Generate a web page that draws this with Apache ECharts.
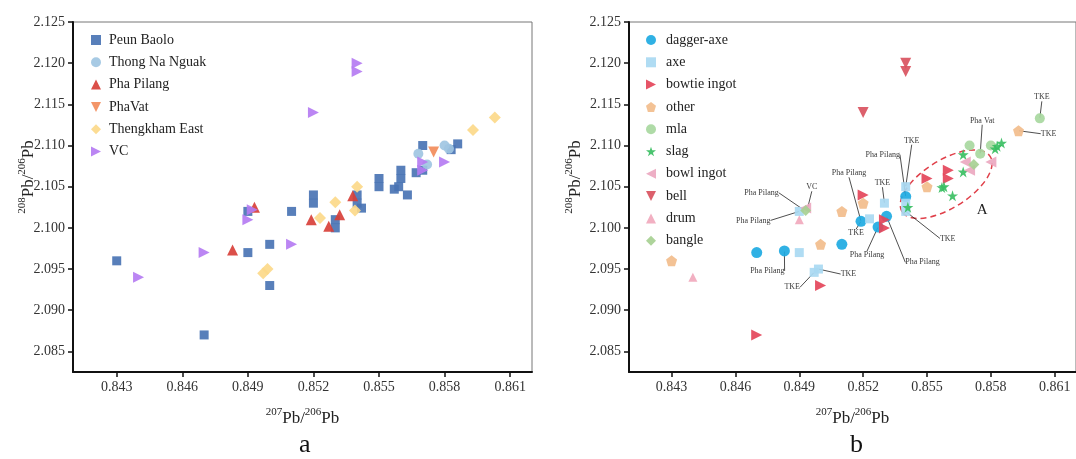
<!DOCTYPE html>
<html>
<head>
<meta charset="utf-8">
<script src="https://cdn.jsdelivr.net/npm/echarts@6/dist/echarts.min.js"></script>
<style>
	html, body { margin: 0; padding: 0; background: #fff; }
	#main { width: 1076px; height: 459px; }
</style>
</head>
<body>
<div id="main"></div>
<script>
// tick labels (both panels share the same axes)
var xTicks = [0.843, 0.846, 0.849, 0.852, 0.855, 0.858, 0.861];
var yTicks = [2.085, 2.090, 2.095, 2.100, 2.105, 2.110, 2.115, 2.120, 2.125];

// panel a : [207Pb/206Pb, 208Pb/206Pb]
var peunBaolo = [
	[0.843, 2.096], [0.847, 2.087], [0.849, 2.097], [0.849, 2.102], [0.850, 2.098],
	[0.850, 2.093], [0.851, 2.102], [0.852, 2.104], [0.852, 2.103], [0.853, 2.101],
	[0.853, 2.100], [0.854, 2.104], [0.854, 2.103], [0.8542, 2.1024], [0.855, 2.106],
	[0.855, 2.105], [0.856, 2.107], [0.856, 2.106], [0.8557, 2.1047], [0.8559, 2.105],
	[0.8563, 2.104], [0.8567, 2.1067], [0.857, 2.110], [0.857, 2.107], [0.8583, 2.1095],
	[0.8586, 2.1102]
];
var thongNaNguak = [[0.8568, 2.109], [0.858, 2.110], [0.8582, 2.1096], [0.8572, 2.1077]];
var phaPilang = [[0.8483, 2.0973], [0.8493, 2.1025], [0.8519, 2.101], [0.8527, 2.1002], [0.8532, 2.1016], [0.8538, 2.1039]];
var phaVat = [[0.8575, 2.1092]];
var thengkhamEast = [
	[0.8497, 2.0945], [0.8499, 2.095], [0.8523, 2.1012], [0.853, 2.1031],
	[0.8539, 2.1021], [0.854, 2.105], [0.8593, 2.1119], [0.8603, 2.1134]
];
var vc = [
	[0.844, 2.094], [0.847, 2.097], [0.849, 2.101], [0.8492, 2.1022], [0.851, 2.098],
	[0.852, 2.114], [0.854, 2.120], [0.854, 2.119], [0.857, 2.108], [0.857, 2.107], [0.858, 2.108]
];

// panel b
var daggerAxe = [[0.847, 2.097], [0.8483, 2.0972], [0.851, 2.098], [0.8519, 2.1008], [0.8527, 2.1001], [0.8531, 2.1014], [0.854, 2.1038]];
var axe = [[0.849, 2.097], [0.8497, 2.0946], [0.8499, 2.095], [0.849, 2.102], [0.8523, 2.1011], [0.853, 2.103], [0.854, 2.105], [0.854, 2.103], [0.854, 2.102]];
var bowtieIngot = [[0.847, 2.087], [0.850, 2.093], [0.853, 2.100], [0.853, 2.101], [0.852, 2.104], [0.855, 2.106], [0.856, 2.107], [0.856, 2.106]];
var other = [[0.843, 2.096], [0.850, 2.098], [0.851, 2.102], [0.852, 2.103], [0.855, 2.105], [0.8593, 2.1118]];
var mla = [[0.857, 2.110], [0.8575, 2.109], [0.858, 2.110], [0.8603, 2.1133]];
var slag = [[0.8541, 2.1025], [0.8557, 2.1049], [0.8558, 2.105], [0.8562, 2.1039], [0.8567, 2.1068], [0.8567, 2.1089], [0.8582, 2.1096], [0.8583, 2.1099], [0.8585, 2.1103]];
var bowlIngot = [[0.8493, 2.1024], [0.8568, 2.108], [0.857, 2.107], [0.858, 2.108]];
var bell = [[0.852, 2.114], [0.854, 2.120], [0.854, 2.119]];
var drum = [[0.844, 2.094], [0.849, 2.101]];
var bangle = [[0.8493, 2.1021], [0.8572, 2.1077]];

// annotations of panel b: text, point it refers to
var annoText = ['Pha Pilang', 'VC', 'Pha Pilang', 'Pha Pilang', 'TKE', 'TKE', 'TKE', 'Pha Pilang', 'Pha Pilang',
	'TKE', 'TKE', 'TKE', 'Pha Pilang', 'Pha Pilang', 'Pha Vat', 'TKE', 'TKE'];
var annoAt = [[0.8492, 2.1022], [0.8494, 2.1025], [0.849, 2.102], [0.8483, 2.0972], [0.8497, 2.0946], [0.8499, 2.095],
	[0.8519, 2.1008], [0.8527, 2.1001], [0.8531, 2.1014], [0.854, 2.102], [0.853, 2.103], [0.854, 2.105],
	[0.854, 2.1038], [0.8519, 2.1008], [0.8575, 2.109], [0.8603, 2.1133], [0.8593, 2.1118]];
var ellipseAt = [0.8559, 2.1053];

// label offsets (px) of the annotations
var annoOffset = [[-42, -17], [4, -20], [-46, 9], [-17, 20], [-22, 15], [30, 5], [-5, 12], [-11, 28], [36, 46],
	[42, 27], [-2, -20], [6, -46], [-23, -42], [-12, -48], [2, -33], [2, -21], [30, 3]];

var SERIF = 'Liberation Serif';
var TRI_RIGHT = 'path://M0,0L10,5L0,10Z';
var TRI_LEFT = 'path://M10,0L0,5L10,10Z';
var TRI_DOWN = 'path://M0,0L10,0L5,10Z';
var PENTAGON = 'path://M5,0L10,3.8L8.1,10L1.9,10L0,3.8Z';
var STAR = 'path://M5,0L6.2,3.6L10,3.6L6.9,5.9L8.1,9.5L5,7.3L1.9,9.5L3.1,5.9L0,3.6L3.8,3.6Z';

var pbName = '{sup|207}{base|Pb/}{sup|206}{base|Pb}';
var pbNameY = '{sup|208}{base|Pb/}{sup|206}{base|Pb}';
var nameStyle = {
	fontFamily: SERIF,
	color: '#222',
	rich: {
		base: { fontFamily: SERIF, fontSize: 17, lineHeight: 24, color: '#222' },
		sup: { fontFamily: SERIF, fontSize: 11, verticalAlign: 'top', color: '#222' }
	}
};

function xAxis(idx) {
	return {
		type: 'value', gridIndex: idx, min: 0.841, max: 0.862,
		name: pbName, nameLocation: 'middle', nameGap: 35, nameMoveOverlap: false, nameTextStyle: nameStyle,
		axisLine: { show: true, onZero: false, lineStyle: { color: '#111', width: 2 } },
		axisTick: { show: true, length: 5, customValues: xTicks, lineStyle: { color: '#111', width: 1.5 } },
		axisLabel: {
			customValues: xTicks, margin: 8, fontFamily: SERIF, fontSize: 14, color: '#333',
			formatter: function (v) { return v.toFixed(3); }
		},
		splitLine: { show: false }
	};
}
function yAxis(idx, gap) {
	var ns = JSON.parse(JSON.stringify(nameStyle));
	ns.padding = [0, 0, 0, 40];
	return {
		type: 'value', gridIndex: idx, min: 2.0825, max: 2.125,
		name: pbNameY, nameLocation: 'middle', nameGap: gap, nameRotate: 90, nameMoveOverlap: false, nameTextStyle: ns,
		axisLine: { show: true, onZero: false, lineStyle: { color: '#111', width: 2 } },
		axisTick: { show: true, length: 5, customValues: yTicks, lineStyle: { color: '#111', width: 1.5 } },
		axisLabel: {
			customValues: yTicks, margin: 8, fontFamily: SERIF, fontSize: 14, color: '#333',
			formatter: function (v) { return v.toFixed(3); }
		},
		splitLine: { show: false }
	};
}

function pts(name, data, idx, symbol, size, color) {
	return {
		name: name, type: 'scatter', xAxisIndex: idx, yAxisIndex: idx,
		data: data, symbol: symbol, symbolSize: size,
		itemStyle: { color: color, opacity: 0.92 }
	};
}

var myChart = echarts.init(document.getElementById('main'));
var option = {
	animation: false,
	textStyle: { fontFamily: SERIF },
	title: [
		{ text: 'a', left: 299, top: 432, padding: 0, textStyle: { fontFamily: SERIF, fontSize: 26, fontWeight: 'normal', color: '#111' } },
		{ text: 'b', left: 850, top: 432, padding: 0, textStyle: { fontFamily: SERIF, fontSize: 26, fontWeight: 'normal', color: '#111' } }
	],
	grid: [
		{ left: 73, top: 22, width: 459, height: 350, show: true, borderColor: '#777', borderWidth: 1 },
		{ left: 629, top: 22, width: 459, height: 350, show: true, borderColor: '#777', borderWidth: 1 }
	],
	legend: [
		{
			orient: 'vertical', left: 86, top: 28, itemWidth: 10, itemHeight: 10, itemGap: 8.3,
			textStyle: { fontFamily: SERIF, fontSize: 14, color: '#222', padding: [0, 0, 0, 3] },
			data: ['Peun Baolo', 'Thong Na Nguak', 'Pha Pilang', 'PhaVat', 'Thengkham East', 'VC']
		},
		{
			orient: 'vertical', left: 641, top: 28, itemWidth: 10, itemHeight: 10, itemGap: 8.3,
			textStyle: { fontFamily: SERIF, fontSize: 14, color: '#222', padding: [0, 0, 0, 5] },
			data: ['dagger-axe', 'axe', 'bowtie ingot', 'other', 'mla', 'slag', 'bowl ingot', 'bell', 'drum', 'bangle']
		}
	],
	xAxis: [xAxis(0), xAxis(1)],
	yAxis: [yAxis(0, 32), yAxis(1, 41)],
	series: [
		pts('Peun Baolo', peunBaolo, 0, 'rect', 9, '#4a74b4'),
		pts('Thong Na Nguak', thongNaNguak, 0, 'circle', 10, '#9fc5e2'),
		pts('Pha Pilang', phaPilang, 0, 'triangle', 11, '#d8403a'),
		pts('PhaVat', phaVat, 0, TRI_DOWN, 11, '#f28c5b'),
		pts('Thengkham East', thengkhamEast, 0, 'diamond', 12, '#fcd98a'),
		pts('VC', vc, 0, TRI_RIGHT, 11, '#b57cf2'),

		pts('dagger-axe', daggerAxe, 1, 'circle', 11, '#1eaae2'),
		pts('axe', axe, 1, 'rect', 9, '#a9d9f2'),
		pts('bowtie ingot', bowtieIngot, 1, TRI_RIGHT, 11, '#e4455a'),
		pts('other', other, 1, PENTAGON, 11, '#f2bd8c'),
		pts('mla', mla, 1, 'circle', 10, '#a8d8a0'),
		pts('slag', slag, 1, STAR, 11, '#3bbf63'),
		pts('bowl ingot', bowlIngot, 1, TRI_LEFT, 11, '#eba8c0'),
		pts('bell', bell, 1, TRI_DOWN, 11, '#d9525f'),
		pts('drum', drum, 1, 'triangle', 9, '#f1a9bd'),
		pts('bangle', bangle, 1, 'diamond', 11, '#a7d093'),
		{
			name: 'notes', type: 'scatter', xAxisIndex: 1, yAxisIndex: 1, silent: true,
			symbolSize: 1, itemStyle: { color: 'rgba(0,0,0,0)' },
			data: annoAt.map(function (p, i) { return { value: p, name: annoText[i] }; }),
			label: { show: true, position: 'inside', formatter: '{b}', fontFamily: SERIF, fontSize: 8, color: '#000', textBorderWidth: 0 },
			labelLine: { show: true, lineStyle: { color: '#222', width: 0.8 } },
			labelLayout: function (params) {
				var o = annoOffset[params.dataIndex];
				return { dx: o[0], dy: o[1] };
			}
		}
	]
};
myChart.setOption(option);

// dashed ellipse "A" round the cluster
var c = myChart.convertToPixel({ xAxisIndex: 1, yAxisIndex: 1 }, ellipseAt);
myChart.setOption({
	graphic: [
		{
			type: 'ellipse', x: c[0], y: c[1], rotation: 32 * Math.PI / 180, silent: true,
			shape: { cx: 0, cy: 0, rx: 52, ry: 24 },
			style: { fill: 'none', stroke: '#e0404a', lineWidth: 1.5, lineDash: [6, 4] }
		},
		{
			type: 'text', x: c[0] + 36, y: c[1] + 26, silent: true,
			style: { text: 'A', font: '15px "Liberation Serif"', fill: '#222', align: 'center', verticalAlign: 'middle', textAlign: 'center', textVerticalAlign: 'middle' }
		}
	]
});
</script>
</body>
</html>
